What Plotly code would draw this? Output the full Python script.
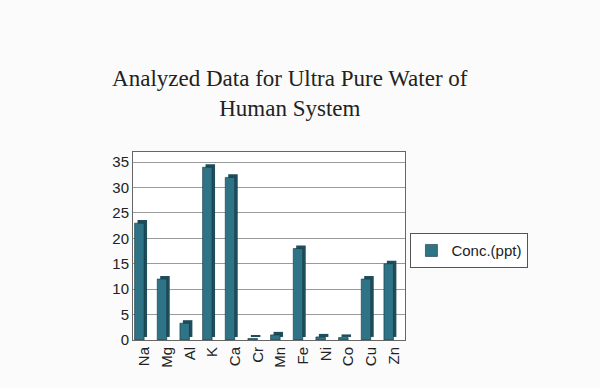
import plotly.graph_objects as go

elements = ["Na", "Mg", "Al", "K", "Ca", "Cr", "Mn", "Fe", "Ni", "Co", "Cu", "Zn"]
conc_ppt = [23, 12, 3.3, 34, 32, 0.3, 1.0, 18, 0.6, 0.5, 12, 15]
y_ticks = [0, 5, 10, 15, 20, 25, 30, 35]
series_name = "Conc.(ppt)"

depth = 0.6  # units of raised depth for pseudo-3D side

fig = go.Figure()
# darker side/top face (pseudo 3D)
fig.add_trace(go.Bar(
    x=elements, y=conc_ppt, base=[depth] * len(elements),
    width=0.42, offset=-0.3,
    marker=dict(color="#1e4d5b", line=dict(width=0)),
    showlegend=False, hoverinfo="skip",
))
# front face
fig.add_trace(go.Bar(
    x=elements, y=conc_ppt, name=series_name,
    width=0.42, offset=-0.43,
    marker=dict(color="#2f7386", line=dict(color="#16343d", width=0.6)),
))

fig.update_layout(
    width=600, height=388,
    barmode="overlay",
    paper_bgcolor="#fbfbfb",
    plot_bgcolor="#ffffff",
    margin=dict(l=133, r=195, t=152, b=48),
    title=dict(
        text="Analyzed Data for Ultra Pure Water of<br>Human System",
        x=0.483, xanchor="center", y=0.778, yanchor="middle",
        font=dict(family="Liberation Serif, Times New Roman, serif", size=23, color="#222222"),
    ),
    legend=dict(
        x=1.02, xanchor="left", y=0.475, yanchor="middle",
        bordercolor="#555555", borderwidth=1, bgcolor="#ffffff",
        itemwidth=30,
        font=dict(family="Liberation Sans, Arial, sans-serif", size=15, color="#222222"),
    ),
    showlegend=True,
)
fig.update_xaxes(
    type="category", tickangle=-90,
    tickfont=dict(family="Liberation Sans, Arial, sans-serif", size=15, color="#222222"),
    showline=True, linecolor="#666666", linewidth=1, mirror=True,
    ticks="", showgrid=False,
)
fig.update_yaxes(
    range=[0, 37], tickvals=y_ticks,
    tickfont=dict(family="Liberation Sans, Arial, sans-serif", size=15, color="#222222"),
    showline=True, linecolor="#666666", linewidth=1, mirror=True,
    gridcolor="#9a9a9a", gridwidth=1, ticks="", zeroline=False,
)

fig.write_html("out.html")
